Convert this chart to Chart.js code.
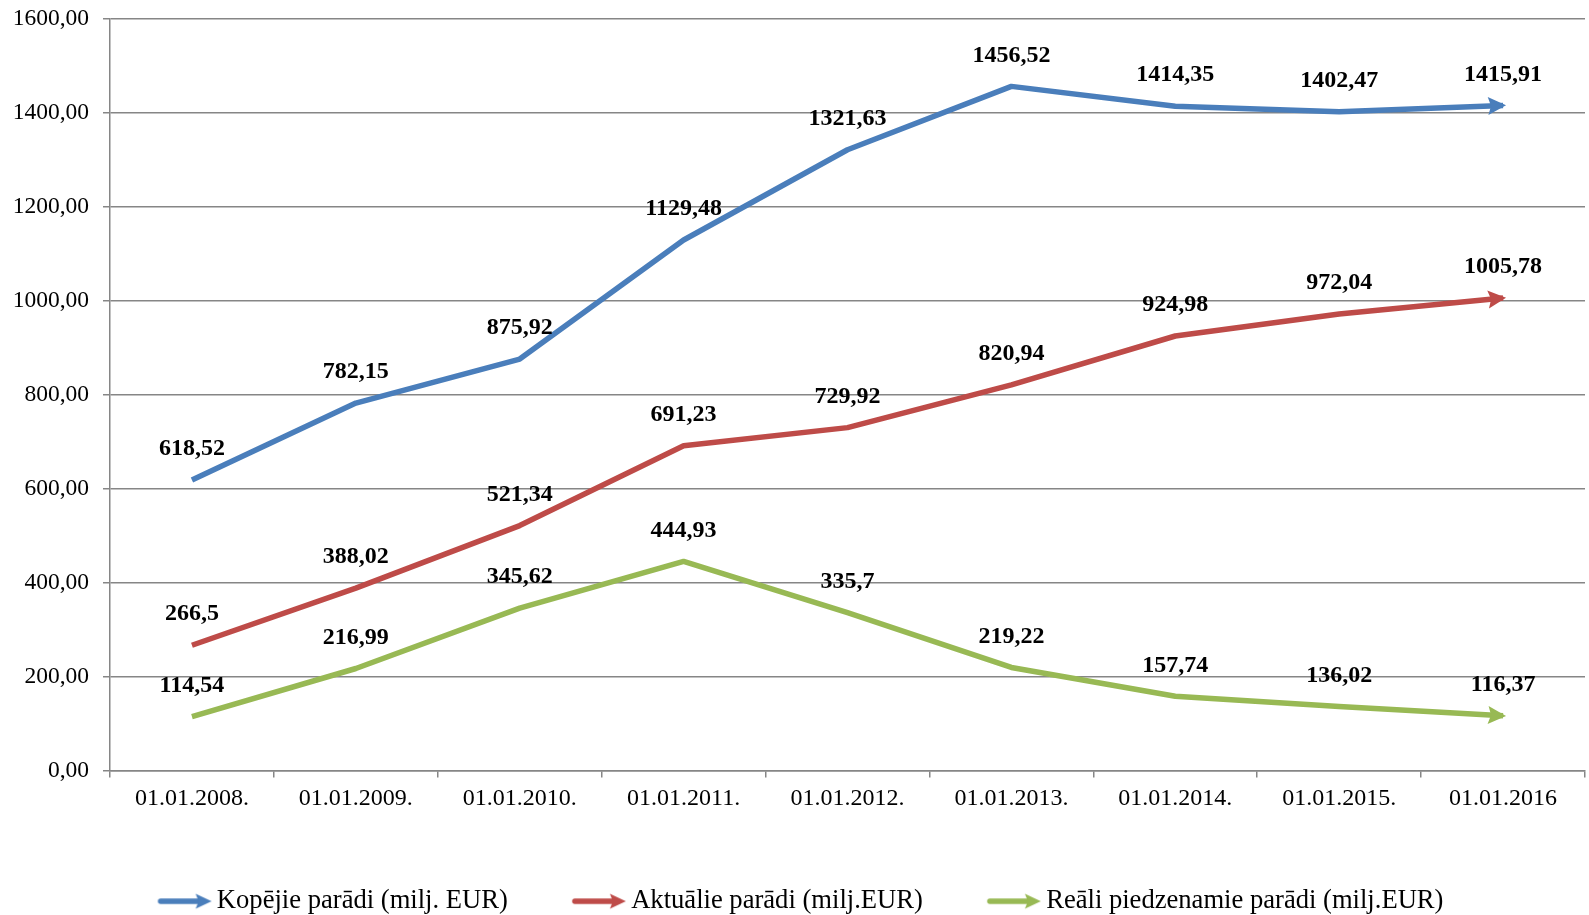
<!DOCTYPE html>
<html>
<head>
<meta charset="utf-8">
<script src="https://cdn.jsdelivr.net/npm/chart.js@4.4.1/dist/chart.umd.min.js"></script>
<style>
  html, body { margin: 0; padding: 0; background: #fff; }
  #wrap { width: 1589px; height: 915px; }
</style>
</head>
<body>
<div id="wrap"><canvas id="debtChart"></canvas></div>
<script>
const dates = ["01.01.2008.", "01.01.2009.", "01.01.2010.", "01.01.2011.", "01.01.2012.",
  "01.01.2013.", "01.01.2014.", "01.01.2015.", "01.01.2016"];

const kopejie = [618.52, 782.15, 875.92, 1129.48, 1321.63, 1456.52, 1414.35, 1402.47, 1415.91];
const aktualie = [266.5, 388.02, 521.34, 691.23, 729.92, 820.94, 924.98, 972.04, 1005.78];
const reali = [114.54, 216.99, 345.62, 444.93, 335.7, 219.22, 157.74, 136.02, 116.37];

const seriesNames = ["Kopējie parādi (milj. EUR)", "Aktuālie parādi (milj.EUR)", "Reāli piedzenamie parādi (milj.EUR)"];
const colors = ["#4A7EBB", "#BE4B48", "#98B954"];

const SERIF = "'Liberation Serif', 'Times New Roman', serif";

function comma(v) {
  return String(v).replace(".", ",");
}

function drawArrowHead(ctx, x, y, angle, color, len, half) {
  ctx.save();
  ctx.translate(x, y);
  ctx.rotate(angle);
  ctx.fillStyle = color;
  ctx.beginPath();
  ctx.moveTo(0, 0);
  ctx.lineTo(-len, -half);
  ctx.lineTo(-len + 3, 0);
  ctx.lineTo(-len, half);
  ctx.closePath();
  ctx.fill();
  ctx.restore();
}

// arrow used as the legend symbol, drawn at the right end of the canvas
function legendIcon(color) {
  const c = document.createElement("canvas");
  c.width = 80;
  c.height = 20;
  const ctx = c.getContext("2d");
  ctx.strokeStyle = color;
  ctx.lineWidth = 5.5;
  ctx.lineCap = "round";
  ctx.beginPath();
  ctx.moveTo(28, 10);
  ctx.lineTo(67, 10);
  ctx.stroke();
  drawArrowHead(ctx, 79, 10, 0, color, 16, 7.5);
  return c;
}

const arrowEnds = {
  id: "arrowEnds",
  afterDatasetsDraw(chart) {
    const ctx = chart.ctx;
    chart.data.datasets.forEach((ds, i) => {
      const pts = chart.getDatasetMeta(i).data;
      const a = pts[pts.length - 2], b = pts[pts.length - 1];
      const ang = Math.atan2(b.y - a.y, b.x - a.x);
      const tx = b.x + Math.cos(ang) * 3, ty = b.y + Math.sin(ang) * 3;
      drawArrowHead(ctx, tx, ty, ang, ds.borderColor, 18, 9);
    });
  }
};

const valueLabels = {
  id: "valueLabels",
  afterDatasetsDraw(chart) {
    const ctx = chart.ctx;
    ctx.save();
    ctx.font = "bold 24px " + SERIF;
    ctx.fillStyle = "#000";
    ctx.textAlign = "center";
    ctx.textBaseline = "middle";
    chart.data.datasets.forEach((ds, i) => {
      chart.getDatasetMeta(i).data.forEach((p, j) => {
        ctx.fillText(comma(ds.data[j]), p.x, p.y - 31);
      });
    });
    ctx.restore();
  }
};

function makeDataset(label, data, color) {
  return {
    label: label,
    data: data,
    borderColor: color,
    backgroundColor: color,
    borderWidth: 5.5,
    borderCapStyle: "butt",
    borderJoinStyle: "round",
    tension: 0,
    pointRadius: 0,
    pointHoverRadius: 0,
    pointStyle: legendIcon(color)
  };
}

const ctx = document.getElementById("debtChart").getContext("2d");
new Chart(ctx, {
  type: "line",
  data: {
    labels: dates,
    datasets: [
      makeDataset(seriesNames[0], kopejie, colors[0]),
      makeDataset(seriesNames[1], aktualie, colors[1]),
      makeDataset(seriesNames[2], reali, colors[2])
    ]
  },
  options: {
    responsive: true,
    maintainAspectRatio: false,
    animation: false,
    layout: { padding: { top: 19, right: 4, left: 0, bottom: -9.5 } },
    plugins: {
      tooltip: { enabled: false },
      legend: {
        position: "bottom",
        labels: {
          usePointStyle: true,
          pointStyleWidth: 62,
          padding: 48,
          color: "#000",
          font: { family: SERIF, size: 26.6 }
        }
      }
    },
    scales: {
      x: {
        offset: true,
        grid: {
          offset: true,
          drawOnChartArea: false,
          color: "#868686",
          lineWidth: 1.5,
          tickLength: 7
        },
        border: { color: "#868686", width: 1.5 },
        ticks: {
          color: "#000",
          padding: 7,
          maxRotation: 0,
          font: { family: SERIF, size: 24 }
        },
        afterFit(scale) { scale.height = 69.5; }
      },
      y: {
        min: 0,
        max: 1600,
        grid: {
          color: "#868686",
          lineWidth: 1.5,
          tickLength: 7
        },
        border: { color: "#868686", width: 1.5 },
        ticks: {
          stepSize: 200,
          color: "#000",
          padding: 14,
          font: { family: SERIF, size: 23.5 },
          callback: v => v.toFixed(2).replace(".", ",")
        },
        afterFit(scale) {
          scale.width = 110;
          scale.paddingTop = 0;
          scale.paddingBottom = 0;
        }
      }
    }
  },
  plugins: [arrowEnds, valueLabels]
});
</script>
</body>
</html>
